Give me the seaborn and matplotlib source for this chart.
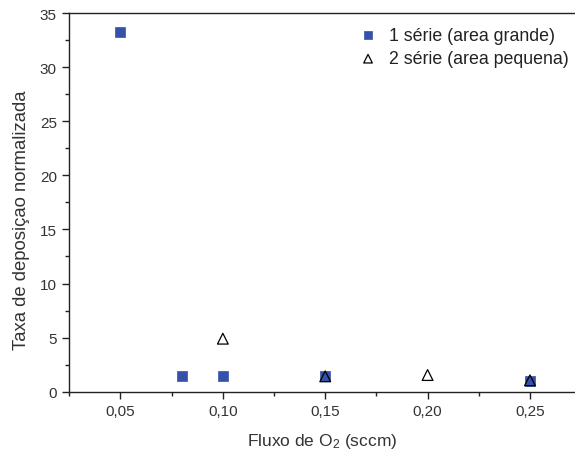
import matplotlib
matplotlib.use("Agg")
import matplotlib.pyplot as plt
import seaborn as sns
import pandas as pd
from matplotlib.ticker import MultipleLocator, FuncFormatter

sns.set_theme(style="ticks")
plt.rcParams['font.family'] = ['Liberation Sans', 'DejaVu Sans']
plt.rcParams['mathtext.fontset'] = 'custom'
plt.rcParams['mathtext.rm'] = 'Liberation Sans'
plt.rcParams['mathtext.it'] = 'Liberation Sans'

s1_x = [0.05, 0.08, 0.10, 0.15, 0.25]
s1_y = [33.2, 1.48, 1.48, 1.42, 1.02]
s2_x = [0.10, 0.15, 0.20, 0.25]
s2_y = [4.9, 1.42, 1.54, 1.05]
label1 = "1 série (area grande)"
label2 = "2 série (area pequena)"

df1 = pd.DataFrame({"x": s1_x, "y": s1_y})
df2 = pd.DataFrame({"x": s2_x, "y": s2_y})

fig = plt.figure(figsize=(5.75, 4.52), dpi=100)
ax = fig.add_axes([0.1205, 0.1312, 0.8795, 0.8378])

sns.scatterplot(data=df1, x="x", y="y", ax=ax, marker="s", s=50,
                color="#3552a8", edgecolor="#3552a8", linewidth=0.5, label=label1, zorder=3)
sns.scatterplot(data=df2, x="x", y="y", ax=ax, marker="^", s=60,
                facecolor="none", edgecolor="black", linewidth=0.9, label=label2, zorder=4)

ax.set_xlim(0.025, 0.272)
ax.set_ylim(0, 35)
ax.xaxis.set_major_locator(MultipleLocator(0.05))
ax.xaxis.set_minor_locator(MultipleLocator(0.025))
ax.yaxis.set_major_locator(MultipleLocator(5))
ax.yaxis.set_minor_locator(MultipleLocator(2.5))
ax.xaxis.set_major_formatter(FuncFormatter(lambda v, p: f"{v:.2f}".replace(".", ",")))
ax.yaxis.set_major_formatter(FuncFormatter(lambda v, p: f"{v:.0f}"))

for sp in ax.spines.values():
    sp.set_color("#222222")
    sp.set_linewidth(1.0)
ax.spines['right'].set_visible(False)

ax.tick_params(which="major", direction="out", length=5, width=1, colors="#222222",
               labelsize=11, labelcolor="#333333", pad=4)
ax.tick_params(which="minor", direction="out", length=3, width=1, colors="#222222")
ax.tick_params(axis="x", top=False)
ax.tick_params(axis="y", right=False)

ax.set_xlabel("Fluxo de O$_2$ (sccm)", fontsize=12.5, color="#333333", labelpad=9)
ax.set_ylabel("Taxa de deposiçao normalizada", fontsize=13.3, color="#333333")
ax.yaxis.set_label_coords(-0.078, 0.456)

leg = ax.legend(loc="upper right", frameon=False, fontsize=12.8, handletextpad=0.2,
                borderaxespad=0.5, labelspacing=0.35, markerscale=0.8,
                bbox_to_anchor=(1.02, 1.005))
for t in leg.get_texts():
    t.set_color("#222222")

fig.savefig("out.png", dpi=100)
